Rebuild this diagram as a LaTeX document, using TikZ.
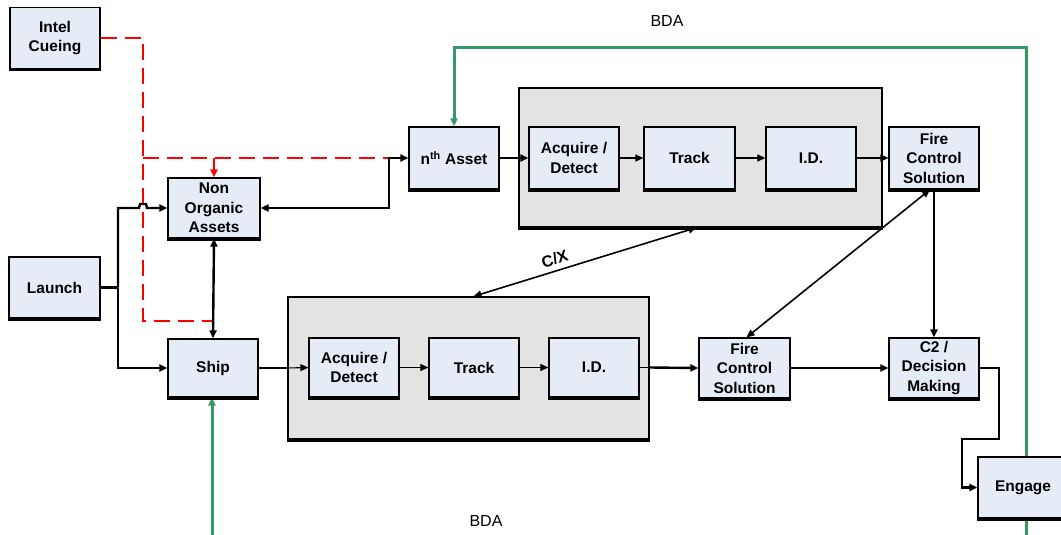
\documentclass[tikz,border=0pt]{standalone}
\usepackage{fontspec}
\setmainfont{Liberation Sans}
\usetikzlibrary{arrows.meta,backgrounds}
\definecolor{boxfill}{RGB}{230,236,246}
\definecolor{panel}{RGB}{227,227,227}
\definecolor{bdagreen}{RGB}{52,153,102}
\definecolor{cuered}{RGB}{255,0,0}

\begin{document}
\begin{tikzpicture}[x=1pt,y=-1pt,
  box/.style={draw, line width=1.2pt, fill=boxfill, inner sep=0pt, align=center,
    font=\fontsize{15.5}{19.5}\selectfont\bfseries, minimum width=90pt, minimum height=61pt},
  panelbox/.style={draw, line width=1.2pt, fill=panel, inner sep=0pt},
  tipend/.style={-{Triangle[length=8pt,width=7pt]}},
  tipboth/.style={{Triangle[length=8pt,width=7pt]}-{Triangle[length=8pt,width=7pt]}},
  heavy/.style={line width=2.4pt},
  light/.style={line width=1.1pt},
  cue/.style={draw=cuered, line width=2.6pt, dash pattern=on 16pt off 8pt},
  bda/.style={draw=bdagreen, line width=3pt},
  lbl/.style={font=\fontsize{16}{18}\selectfont}
]
\useasboundingbox (0,0) rectangle (1061,535);
\clip (0,0) rectangle (1061,535);

% grey process panels
\node[panelbox, minimum width=363pt, minimum height=139pt] (paneltop) at (700.5,157.5) {};
\node[panelbox, minimum width=361pt, minimum height=142pt] (panelbot) at (468.5,368) {};

% blocks
\node[box] (ic) at (55,38) {Intel\\Cueing};
\node[box, minimum width=92pt, minimum height=60pt] (noa) at (214,208) {Non\\Organic\\Assets};
\node[box, minimum height=62pt] (nth) at (454,158) {n\textsuperscript{th} Asset};
\node[box, minimum height=62pt] (ad1) at (574,158) {Acquire /\\Detect};
\node[box, minimum width=91pt, minimum height=62pt] (tr1) at (689.5,158) {Track};
\node[box, minimum height=62pt] (id1) at (811,158) {I.D.};
\node[box, minimum height=62pt] (fcs1) at (934,158) {Fire\\Control\\Solution};
\node[box, minimum width=91pt] (launch) at (54.5,287.5) {Launch};
\node[box, minimum height=58pt] (ship) at (213,368) {Ship};
\node[box, minimum height=59pt] (ad2) at (354,367.5) {Acquire /\\Detect};
\node[box, minimum height=59pt] (tr2) at (474,367.5) {Track};
\node[box, minimum height=59pt] (id2) at (594,367.5) {I.D.};
\node[box, minimum width=91pt, minimum height=60pt] (fcs2) at (744.5,368) {Fire\\Control\\Solution};
\node[box, minimum height=60pt] (c2) at (934,368) {C2 /\\Decision\\Making};
\node[box] (engage) at (1023,487.5) {Engage};

% heavier lower edges
\foreach \n in {paneltop,panelbot,ic,noa,nth,ad1,tr1,id1,fcs1,launch,ship,ad2,tr2,id2,fcs2,c2,engage}
  \draw[line width=2.8pt] ([yshift=-0.8pt]\n.south west) -- ([yshift=-0.8pt]\n.south east);

% battle damage assessment feedback
\coordinate (bdaright) at (1026,535);
\coordinate (bdaleft) at (212,535);
\begin{scope}[on background layer]
  \draw[bda, tipend] (bdaright) -- (1026,48) -| (nth.north);
  \draw[bda, tipend] (bdaleft) -- (ship.south -| bdaleft);
\end{scope}
\node[lbl] (bdatop) at (667,21) {BDA};
\node[lbl] (bdabot) at (486,521) {BDA};

% intelligence cueing
\coordinate (cuecol) at (143,38);
\coordinate (cuejoin) at (143,158);
\coordinate (cuestop) at (389,158);
\draw[cue] (ic.east |- cuecol) -- (cuecol) -- (143,321) -- (212,321);
\draw[cue] (cuejoin) -- (cuestop);
\draw[cue, solid, tipend] (noa.north |- cuejoin) -- (noa.north);

% launch distribution
\coordinate (lsplit) at (118,287.5);
\draw[heavy] (launch.east) -- (lsplit);
\draw[heavy, tipend] (lsplit) -- (118,208) -- (139,208) -- (140,204) -- (146,204) -- (147,208) -- (noa.west);
\draw[heavy, tipend] (lsplit) |- (ship.west);

% off-board asset links
\draw[heavy, tipboth] (nth.west) -- (cuestop) |- (noa.east);
\draw[heavy, tipboth] (noa.south) -- (ship.north);

% upper chain
\draw[heavy, tipend] (nth.east) -- (ad1.west);
\draw[light, tipend] (ad1.east) -- (tr1.west);
\draw[light, tipend] (tr1.east) -- (id1.west);
\draw[light, tipend] (id1.east) -- (fcs1.west);
\draw[heavy, tipend] (fcs1.south) -- (c2.north);

% lower chain
\draw[heavy] (ship.east) -- (panelbot.west |- ship.east);
\draw[light, tipend] (panelbot.west |- ship.east) -- (ad2.west);
\draw[light, tipend] (ad2.east) -- (tr2.west);
\draw[light, tipend] (tr2.east) -- (id2.west);
\draw[light] (id2.east) -- (panelbot.east |- id2.east);
\draw[heavy, tipend] (panelbot.east |- id2.east) -- (fcs2.west);
\draw[heavy, tipend] (fcs2.east) -- (c2.west);

% engagement
\draw[heavy, tipend] (c2.east) -- (999,368) -- (999,439) -- (962,439) |- (engage.west);

% cross links between the two tracks
\draw[line width=1.6pt, tipboth] ([xshift=-4pt]fcs1.south) -- ([xshift=2pt]fcs2.north);
\draw[line width=1.6pt, tipboth] ([xshift=-4pt]paneltop.south) -- node[pos=0.62, above=2pt, sloped, lbl, font=\fontsize{16}{18}\selectfont\bfseries] (cx) {C/X} ([xshift=5pt]panelbot.north);
\end{tikzpicture}
\end{document}
